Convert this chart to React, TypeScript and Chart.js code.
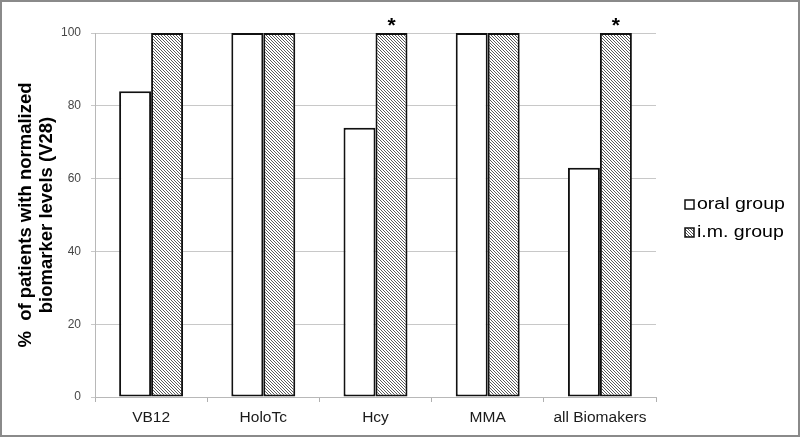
import React, { useEffect, useRef } from "react";
import { Chart, registerables } from "chart.js";

Chart.register(...registerables);

const categories = ["VB12", "HoloTc", "Hcy", "MMA", "all Biomakers"];
const oralValues = [84, 100, 74, 100, 63];
const imValues = [100, 100, 100, 100, 100];
const significant = [false, false, true, false, true];
const seriesNames = ["oral group", "i.m. group"];
const yTicks = [0, 20, 40, 60, 80, 100];

const FONT = "'Liberation Sans', Arial, sans-serif";

function makeHatch(ctx: CanvasRenderingContext2D): CanvasPattern | string {
  const c = document.createElement("canvas");
  c.width = 3;
  c.height = 3;
  const p = c.getContext("2d");
  if (!p) return "#999";
  p.fillStyle = "#ffffff";
  p.fillRect(0, 0, 3, 3);
  p.fillStyle = "#5a5a5a";
  for (let i = 0; i < 3; i++) p.fillRect(i, i, 1, 1);
  return ctx.createPattern(c, "repeat") || "#999";
}

export default function App() {
  const ref = useRef<HTMLCanvasElement | null>(null);

  useEffect(() => {
    document.body.style.margin = "0";
    const canvas = ref.current;
    if (!canvas) return;
    const ctx = canvas.getContext("2d");
    if (!ctx) return;
    const hatch = makeHatch(ctx);

    const extras = {
      id: "extras",
      beforeDraw(chart: any) {
        const c = chart.ctx;
        c.save();
        c.fillStyle = "#ffffff";
        c.fillRect(0, 0, chart.width, chart.height);
        c.restore();
      },
      afterDraw(chart: any) {
        const c = chart.ctx;
        const meta = chart.getDatasetMeta(1);
        c.save();
        c.fillStyle = "#000";
        c.font = `bold 21px ${FONT}`;
        c.textAlign = "center";
        c.textBaseline = "alphabetic";
        meta.data.forEach((bar: any, i: number) => {
          if (significant[i]) {
            c.fillText("*", bar.x, bar.y - 1);
          }
        });
        // legend
        const lx = 685;
        const ys = [205, 233];
        const fills: any[] = ["#ffffff", hatch];
        seriesNames.forEach((name, i) => {
          c.fillStyle = fills[i];
          c.fillRect(lx, ys[i] - 5, 9, 9);
          c.strokeStyle = "#111";
          c.lineWidth = 1.5;
          c.strokeRect(lx, ys[i] - 5, 9, 9);
          c.save();
          c.translate(lx + 12, ys[i]);
          c.scale(1.22, 1);
          c.font = `16px ${FONT}`;
          c.textAlign = "left";
          c.textBaseline = "middle";
          c.fillStyle = "#000";
          c.fillText(name, 0, 0);
          c.restore();
        });
        // border
        c.strokeStyle = "#8a8a8a";
        c.lineWidth = 2;
        c.strokeRect(1, 1, chart.width - 2, chart.height - 2);
        c.restore();
      },
    };

    const chart = new Chart(canvas, {
      type: "bar",
      data: {
        labels: categories,
        datasets: [
          {
            label: seriesNames[0],
            data: oralValues,
            backgroundColor: "#ffffff",
            borderColor: "#111111",
            borderWidth: 2,
            borderSkipped: false,
            categoryPercentage: 0.57,
            barPercentage: 1.0,
          },
          {
            label: seriesNames[1],
            data: imValues,
            backgroundColor: hatch as any,
            borderColor: "#111111",
            borderWidth: 2,
            borderSkipped: false,
            categoryPercentage: 0.57,
            barPercentage: 1.0,
          },
        ],
      },
      options: {
        responsive: false,
        animation: false,
        layout: { padding: { left: 0, top: 33, right: 144, bottom: 0 } },
        plugins: {
          legend: { display: false },
          tooltip: { enabled: false },
          title: { display: false },
        },
        scales: {
          x: {
            grid: {
              display: true,
              drawOnChartArea: false,
              offset: true,
              tickLength: 5,
              color: "#b0b0b0",
            },
            border: { color: "#b8b8b8", width: 1 },
            ticks: {
              color: "#1a1a1a",
              font: { family: FONT, size: 15.5 },
              padding: 6,
              maxRotation: 0,
            },
            afterFit(scale: any) {
              scale.height = 40;
            },
          },
          y: {
            min: 0,
            max: 100,
            afterBuildTicks(scale: any) {
              scale.ticks = yTicks.map((v) => ({ value: v }));
            },
            grid: {
              color: "#c8c8c8",
              tickLength: 4,
            },
            border: { color: "#b8b8b8", width: 1 },
            ticks: {
              color: "#474747",
              font: { family: FONT, size: 12 },
              padding: 10,
            },
            title: {
              display: true,
              text: ["%  of patients with normalized", "biomarker levels (V28)"],
              color: "#000",
              font: {
                family: FONT,
                size: 18.5,
                weight: "bold",
                lineHeight: 1.1,
              },
              padding: { top: 16, bottom: 0 },
            },
            afterFit(scale: any) {
              scale.width = 95;
            },
          },
        },
      },
      plugins: [extras],
    } as any);

    return () => chart.destroy();
  }, []);

  return (
    <div style={{ width: 800, height: 437 }}>
      <canvas ref={ref} width={800} height={437} style={{ display: "block" }} />
    </div>
  );
}
